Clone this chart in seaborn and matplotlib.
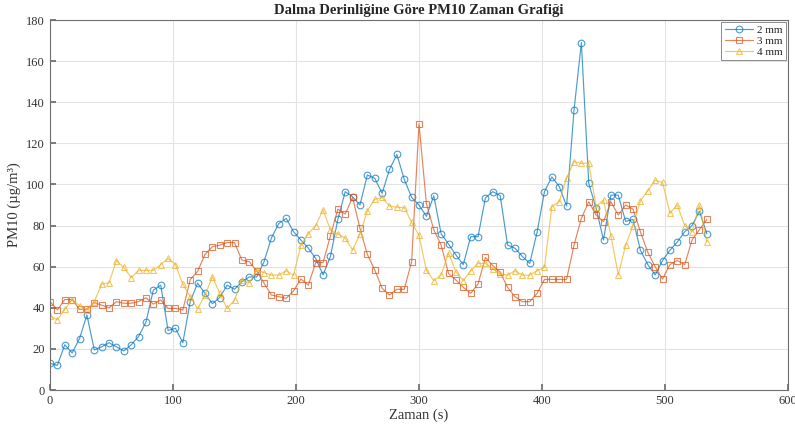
import numpy as np
import pandas as pd
import matplotlib
matplotlib.use("Agg")
import matplotlib.pyplot as plt
import seaborn as sns

series_names = ["2 mm", "3 mm", "4 mm"]
dt = 6
pm_2mm = [13, 12, 22, 18, 25, 36.5, 19.5, 21, 23, 21, 19, 22, 26, 33, 48.6, 51, 29, 30, 23, 43,
          52, 47, 42, 45, 51, 49, 52.7, 55, 55, 62.4, 74, 81, 83.5, 77, 73, 69, 64, 56, 65, 83,
          96.5, 94, 90, 104.6, 103, 95.7, 107.3, 114.6, 102.5, 93.7, 90, 84.5, 94.5, 76, 71, 65.7, 61, 74.6, 74.6, 93.5,
          96.5, 94.6, 70.5, 69, 65, 61.6, 76.8, 96.5, 103.7, 99, 89.5, 136, 169, 100.5, 88.4, 73, 94.8, 94.8, 82, 83,
          68, 61, 56, 63, 68, 72, 77, 80, 87, 76]
pm_3mm = [43, 39, 44, 44, 39.2, 39.2, 42.5, 41.3, 40, 43, 42.2, 42.2, 43, 44.9, 41.8, 43.8, 39.7, 39.7, 38.9, 53.7,
          57.7, 66, 69.7, 70.5, 71.7, 71.7, 63.2, 62.4, 58, 52, 46.2, 45.4, 44.6, 48.2, 54, 51, 62, 62, 75, 88,
          85.6, 93.7, 78.6, 66, 58.4, 49.5, 46.2, 49, 49, 62.4, 129.5, 90.7, 78, 70.5, 56.7, 53.5, 50, 47, 51.6, 64.5,
          60.5, 57.3, 49.9, 45.4, 43, 43, 47, 53.8, 53.8, 53.8, 53.8, 70.5, 83.5, 91.6, 85.1, 81.9, 91.6, 85.1, 90, 88,
          77, 67, 60, 54, 61, 63, 61, 73, 78, 83]
pm_4mm = [36, 34.2, 39.2, 44, 41, 39, 43, 51.5, 52.2, 63, 59.6, 54.7, 58.2, 58.2, 58.2, 61, 64, 61, 51.5, 45.4,
          39.5, 46.2, 55.1, 47, 39.7, 43.8, 53.5, 52.2, 58.4, 57.1, 55.9, 55.9, 58, 55.9, 70.5, 76, 80, 87.7, 77.8, 76,
          73.8, 68.1, 75.9, 87.2, 92.7, 93.7, 89.5, 88.9, 88.7, 81.6, 75.2, 58.2, 53.2, 56, 66.7, 57.5, 53.2, 58, 61.6, 61.6,
          59, 56.5, 55.9, 58, 55.9, 55.9, 58, 59.7, 89.2, 91.6, 103, 111.1, 110.3, 110.3, 89.2, 92.4, 75, 56, 70.5, 80,
          92, 97, 102, 101, 86, 90, 80, 77, 90, 72]
x_ticks = [0, 100, 200, 300, 400, 500, 600]
y_ticks = [0, 20, 40, 60, 80, 100, 120, 140, 160, 180]

colors = ["#0072BD", "#D95319", "#EDB120"]
markers = ["o", "s", "^"]

sns.set_theme(style="white")
plt.rcParams["font.family"] = ["Liberation Serif", "DejaVu Serif"]

fig = plt.figure(figsize=(7.95, 4.26), dpi=100)
ax = fig.add_axes([0.0629, 0.0845, 0.9283, 0.8685])

for name, vals, c, m in zip(series_names, [pm_2mm, pm_3mm, pm_4mm], colors, markers):
    t = np.arange(len(vals)) * dt
    df = pd.DataFrame({"t": t, "v": vals})
    sns.lineplot(data=df, x="t", y="v", ax=ax, color=c, marker=m, markersize=4.8,
                 mfc="none", mec=c, mew=0.8, linewidth=0.85, alpha=0.7, label=name)

ax.set_xlim(0, 600)
ax.set_ylim(0, 180)
ax.set_xticks(x_ticks)
ax.set_yticks(y_ticks)
ax.grid(True, color="#e3e3e3", linewidth=0.8)
for s in ax.spines.values():
    s.set_color("#6e6e6e")
    s.set_linewidth(0.8)
ax.tick_params(direction="in", length=4, color="#6e6e6e", labelsize=9, labelcolor="#333333",
               bottom=True, left=True)
ax.set_xlabel("Zaman (s)", fontsize=10.5, color="#333333", labelpad=1)
ax.set_ylabel("PM10 (µg/m³)", fontsize=10.5, color="#333333", labelpad=4)
ax.set_title("Dalma Derinliğine Göre PM10 Zaman Grafiği", fontsize=10.5, fontweight="bold", pad=4)

leg = ax.legend(loc="upper right", fontsize=8, fancybox=False, frameon=True, framealpha=1,
                edgecolor="#8a8a8a", borderpad=0.3, labelspacing=0.1, handlelength=2.6,
                handletextpad=0.3, borderaxespad=0.2)
leg.get_frame().set_linewidth(0.7)

fig.savefig("out.png", dpi=100)
